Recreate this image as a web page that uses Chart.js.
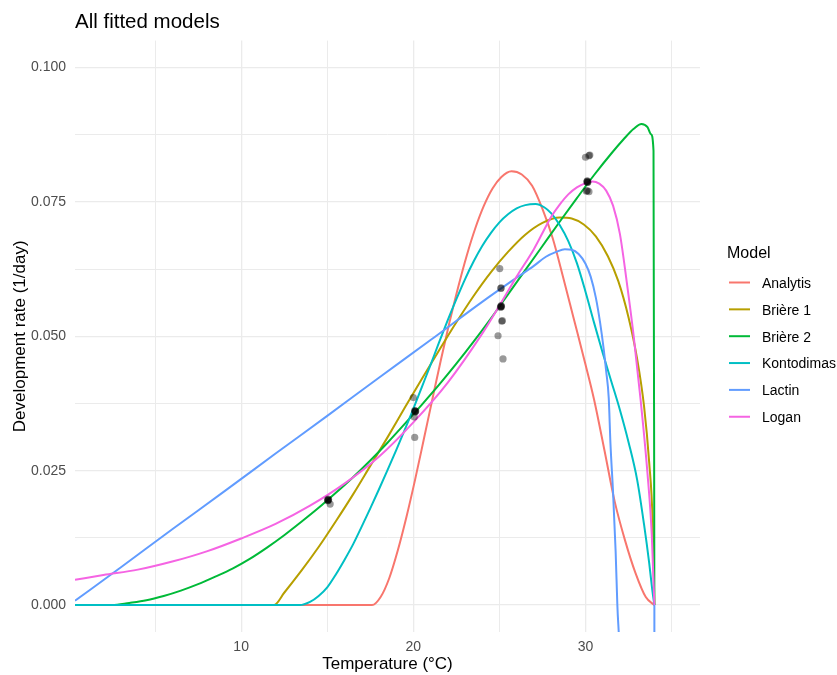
<!DOCTYPE html>
<html><head><meta charset="utf-8">
<script src="https://cdn.jsdelivr.net/npm/chart.js@4.4.1/dist/chart.umd.min.js"></script>
<style>html,body{margin:0;padding:0;background:#fff;overflow:hidden}</style>
</head><body>
<canvas id="c" width="837" height="675" style="width:837px;height:675px;display:block"></canvas>
<script>
// ---- data ----
const modelNames = ['Analytis', 'Brière 1', 'Brière 2', 'Kontodimas', 'Lactin', 'Logan'];
const modelColors = ['#F8766D', '#B79F00', '#00BA38', '#00BFC4', '#619CFF', '#F564E3'];

const analytisT    = [0.35, 17.6, 18.1, 18.6, 19.1, 19.6, 20.1, 20.6, 21.1, 21.6, 22.1, 22.6, 23.1, 23.6, 24.1, 24.6, 25.1, 25.7, 26.3, 26.9, 27.5, 28.1, 28.7, 29.3, 29.9, 30.5, 31.1, 31.7, 32.3, 32.9, 33.5, 34.0];
const analytisRate = [0, 0, 0.0015, 0.0050, 0.0102, 0.0164, 0.0233, 0.0307, 0.0382, 0.0456, 0.0526, 0.0591, 0.0650, 0.0701, 0.0743, 0.0775, 0.0796, 0.0807, 0.0801, 0.0780, 0.0737, 0.0682, 0.0610, 0.0535, 0.0460, 0.0382, 0.0288, 0.0192, 0.0120, 0.0060, 0.0015, 0];

const briere1T    = [0.35, 11.9, 12.5, 13.5, 14.5, 15.5, 16.5, 17.5, 18.5, 19.5, 20.5, 21.5, 22.5, 23.5, 24.5, 25.5, 26.5, 27.5, 28.5, 29.2, 29.9, 30.6, 31.3, 31.9, 32.5, 33.0, 33.4, 33.7, 33.9, 34.0];
const briere1Rate = [0, 0, 0.0023, 0.0064, 0.0108, 0.0156, 0.0206, 0.0259, 0.0312, 0.0367, 0.0421, 0.0474, 0.0526, 0.0575, 0.0619, 0.0657, 0.0689, 0.0711, 0.0721, 0.0719, 0.0708, 0.0686, 0.0649, 0.0603, 0.0535, 0.0458, 0.0370, 0.0265, 0.0155, 0];

const briere2T    = [0.35, 2.5, 3.5, 4.5, 5.5, 6.5, 7.5, 8.5, 9.5, 10.5, 11.5, 12.5, 13.5, 14.5, 15.5, 16.5, 17.5, 18.5, 19.5, 20.5, 21.5, 22.5, 23.5, 24.5, 25.5, 26.5, 27.5, 28.5, 29.5, 30.5, 31.5, 32.2, 32.8, 33.25, 33.6, 33.8, 33.95, 34.0];
const briere2Rate = [0, 0, 0.0004, 0.0009, 0.0017, 0.0027, 0.0039, 0.0053, 0.0068, 0.0086, 0.0107, 0.0130, 0.0155, 0.0181, 0.0209, 0.0238, 0.0269, 0.0302, 0.0337, 0.0373, 0.0410, 0.0449, 0.0490, 0.0533, 0.0578, 0.0623, 0.0668, 0.0713, 0.0757, 0.0800, 0.0840, 0.0866, 0.0886, 0.0895, 0.0889, 0.0876, 0.0845, 0];

const kontodimasT    = [0.35, 13.4, 14.0, 14.5, 15.0, 15.5, 16.0, 16.5, 17.0, 17.5, 18.0, 18.5, 19.0, 19.5, 20.0, 20.5, 21.0, 21.5, 22.0, 22.5, 23.0, 23.5, 24.0, 24.5, 25.0, 25.5, 26.0, 26.5, 27.1, 27.6, 28.0, 28.5, 29.0, 29.5, 30.0, 30.5, 31.0, 31.5, 32.0, 32.5, 33.0, 33.4, 33.7, 33.88, 34.0];
const kontodimasRate = [0, 0, 0.0006, 0.0017, 0.0033, 0.0057, 0.0084, 0.0113, 0.0146, 0.0180, 0.0215, 0.0251, 0.0288, 0.0326, 0.0365, 0.0406, 0.0447, 0.0489, 0.0530, 0.0569, 0.0606, 0.0639, 0.0668, 0.0692, 0.0712, 0.0727, 0.0738, 0.0744, 0.0746, 0.0740, 0.0729, 0.0707, 0.0677, 0.0636, 0.0583, 0.0525, 0.0469, 0.0416, 0.0363, 0.0303, 0.0233, 0.0150, 0.0078, 0.0028, 0];

const lactinT    = [0.35, 3.0, 6.0, 9.0, 12.0, 15.0, 18.0, 21.0, 24.0, 26.0, 27.0, 27.7, 28.3, 28.8, 29.2, 29.6, 30.0, 30.3, 30.6, 30.85, 31.05, 31.2, 31.35, 31.45, 31.6, 31.75, 31.85, 32.0, 33.99, 34.0];
const lactinRate = [0.0008, 0.0070, 0.0141, 0.0211, 0.0282, 0.0352, 0.0423, 0.0493, 0.0564, 0.0609, 0.0631, 0.0648, 0.0657, 0.0662, 0.0661, 0.0653, 0.0635, 0.0611, 0.0572, 0.0525, 0.0478, 0.0435, 0.0385, 0.0300, 0.0210, 0.0100, 0.0, -0.012, -0.5, 0];

const loganT    = [0.35, 2.0, 4.0, 6.0, 8.0, 10.0, 12.0, 14.0, 16.0, 18.0, 20.0, 22.0, 24.0, 25.0, 26.0, 27.0, 27.5, 28.0, 28.5, 29.0, 29.5, 30.0, 30.4, 30.8, 31.2, 31.6, 32.0, 32.4, 32.8, 33.2, 33.6, 33.85, 34.0];
const loganRate = [0.0047, 0.0056, 0.0066, 0.0081, 0.0100, 0.0124, 0.0151, 0.0185, 0.0226, 0.0276, 0.0340, 0.0414, 0.0505, 0.0557, 0.0611, 0.0662, 0.0692, 0.0722, 0.0745, 0.0764, 0.0777, 0.0785, 0.0788, 0.0784, 0.0771, 0.0743, 0.0690, 0.0600, 0.0500, 0.0382, 0.0245, 0.0130, 0];

const obsTemp = [15.02, 15.05, 15.08, 15.04, 15.06, 15.17,
                 20.0, 20.1, 20.12, 20.08, 20.1, 20.14, 20.05, 20.08,
                 25.02, 25.08, 25.1, 25.08, 25.1, 25.06, 25.12, 25.1, 25.14, 25.17, 24.92, 25.21,
                 30.0, 30.2, 30.25, 30.08, 30.1, 30.12, 30.1, 30.14, 30.05, 30.1, 30.2];
const obsRate = [0.0196, 0.0195, 0.0196, 0.0194, 0.0197, 0.0188,
                 0.0386, 0.0361, 0.0360, 0.0362, 0.0359, 0.0361, 0.0350, 0.0312,
                 0.0626, 0.0589, 0.0590, 0.0555, 0.0556, 0.0554, 0.0555, 0.0557, 0.0528, 0.0529, 0.0501, 0.0458,
                 0.0833, 0.0836, 0.0837, 0.0787, 0.0788, 0.0786, 0.0789, 0.0787, 0.0770, 0.0771, 0.0769];

const xMajorTicks = [10, 20, 30];
const yMajorTicks = [0, 0.025, 0.05, 0.075, 0.1];

// ---- chart ----
const FONT = "'Liberation Sans', Arial, Helvetica, sans-serif";
const curveT = [analytisT, briere1T, briere2T, kontodimasT, lactinT, loganT];
const curveRate = [analytisRate, briere1Rate, briere2Rate, kontodimasRate, lactinRate, loganRate];

const isMajorY = v => yMajorTicks.some(m => Math.abs(m - v) < 1e-7);
const isMajorX = v => xMajorTicks.some(m => Math.abs(m - v) < 1e-7);

const datasets = [{
  type: 'scatter',
  label: 'Observed',
  data: obsTemp.map((t, i) => ({x: t, y: obsRate[i]})),
  backgroundColor: 'rgba(0,0,0,0.4)',
  borderWidth: 0,
  pointRadius: 3.6,
  pointHoverRadius: 3.6,
  order: 0,
  clip: 0
}];
modelNames.forEach((name, i) => {
  datasets.push({
    type: 'line',
    label: name,
    data: curveT[i].map((t, j) => ({x: t, y: curveRate[i][j]})),
    borderColor: modelColors[i],
    backgroundColor: modelColors[i],
    borderWidth: 2,
    pointRadius: 0,
    fill: false,
    cubicInterpolationMode: 'monotone',
    order: 6 - i,
    clip: 0
  });
});

const ggLegend = {
  id: 'ggLegend',
  afterDraw(chart) {
    const ctx = chart.ctx;
    const x0 = chart.chartArea.right;
    ctx.save();
    ctx.textBaseline = 'middle';
    ctx.textAlign = 'left';
    ctx.fillStyle = '#000';
    ctx.font = '16px ' + FONT;
    ctx.fillText('Model', x0 + 27, 254);
    ctx.font = '14px ' + FONT;
    modelNames.forEach((name, i) => {
      const y = 282.5 + i * 26.85;
      ctx.strokeStyle = modelColors[i];
      ctx.lineWidth = 2;
      ctx.beginPath();
      ctx.moveTo(x0 + 29, y);
      ctx.lineTo(x0 + 50, y);
      ctx.stroke();
      ctx.fillStyle = '#000';
      ctx.fillText(name, x0 + 62, y + 1.5);
    });
    ctx.restore();
  }
};

new Chart(document.getElementById('c'), {
  type: 'line',
  data: {datasets},
  plugins: [ggLegend],
  options: {
    responsive: false,
    devicePixelRatio: 1,
    animation: false,
    layout: {padding: {left: 0, right: 137, top: 0, bottom: 0}},
    plugins: {
      legend: {display: false},
      tooltip: {enabled: false},
      title: {
        display: true,
        text: 'All fitted models',
        align: 'start',
        fullSize: false,
        color: '#000',
        font: {size: 20.5, family: FONT, weight: 'normal'},
        padding: {top: 10, bottom: 6}
      }
    },
    scales: {
      x: {
        type: 'linear',
        min: 0.35,
        max: 36.65,
        afterFit(s) { s.height = 43; },
        border: {display: false},
        grid: {
          color: '#EBEBEB',
          lineWidth: c => (c.tick && isMajorX(c.tick.value)) ? 1.3 : 1.0,
          drawTicks: false
        },
        ticks: {
          stepSize: 5,
          includeBounds: false,
          autoSkip: false,
          maxRotation: 0,
          padding: 7,
          color: '#4D4D4D',
          font: {size: 14, family: FONT},
          callback: v => isMajorX(v) ? String(Math.round(v)) : ''
        },
        title: {
          display: true,
          text: 'Temperature (°C)',
          color: '#000',
          font: {size: 17, family: FONT},
          padding: {top: 0, bottom: 0}
        }
      },
      y: {
        type: 'linear',
        min: -0.005,
        max: 0.105,
        afterFit(s) { s.width = 75; },
        border: {display: false},
        grid: {
          color: '#EBEBEB',
          lineWidth: c => (c.tick && isMajorY(c.tick.value)) ? 1.3 : 1.0,
          drawTicks: false
        },
        ticks: {
          stepSize: 0.0125,
          includeBounds: false,
          autoSkip: false,
          padding: 9,
          color: '#4D4D4D',
          font: {size: 14, family: FONT},
          callback: v => isMajorY(v) ? v.toFixed(3) : ''
        },
        title: {
          display: true,
          text: 'Development rate (1/day)',
          color: '#000',
          font: {size: 17, family: FONT},
          padding: {top: 10, bottom: 0}
        }
      }
    }
  }
});
</script>
</body></html>
